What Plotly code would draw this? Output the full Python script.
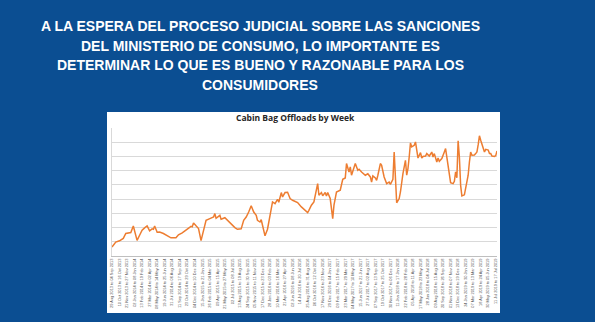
import pandas as pd
import plotly.graph_objects as go

# Slide heading, one entry per line
heading_lines = [
    "A LA ESPERA DEL PROCESO JUDICIAL SOBRE LAS SANCIONES",
    "DEL MINISTERIO DE CONSUMO, LO IMPORTANTE ES",
    "DETERMINAR LO QUE ES BUENO Y RAZONABLE PARA LOS",
    "CONSUMIDORES",
]
chart_title = "Cabin Bag Offloads by Week"

# Weekly series: week number (0 = week of 29 Aug 2013) and offloads level
week_index = [
    0, 3, 6, 9, 11, 15, 17, 18, 20, 22, 24, 26, 28, 30, 32, 33, 34, 36, 38, 41,
    44, 47, 51, 53, 56, 58, 61, 63, 64, 65, 67, 69, 71, 73, 75, 78, 81, 82, 83, 86,
    87, 90, 92, 95, 98, 100, 103, 105, 107, 109, 111, 113, 115, 116, 118, 119, 120, 122, 124, 126,
    128, 130, 132, 133, 135, 136, 138, 140, 142, 144, 147, 148, 151, 154, 156, 157, 159, 161, 162, 164,
    165, 167, 168, 170, 171, 172, 174, 175, 176, 177, 179, 182, 183, 184, 186, 187, 189, 190, 191, 193,
    194, 196, 197, 199, 201, 202, 204, 206, 207, 208, 210, 211, 212, 214, 215, 217, 219, 221, 222, 224,
    225, 226, 227, 229, 230, 232, 233, 234, 235, 236, 237, 238, 239, 241, 242, 243, 244, 246, 247, 248,
    250, 251, 253, 255, 256, 257, 259, 260, 261, 263, 264, 265, 266, 267, 269, 270, 272, 273, 274, 275,
    276, 277, 278, 279, 281, 282, 284, 285, 286, 287, 289, 290, 291, 292, 293, 294, 296, 297, 298, 300,
    301, 302, 303, 305, 306, 307,
]
offloads = [
    0.63, 0.98, 1.07, 1.24, 1.58, 1.65, 2.11, 1.81, 1.10, 1.46, 1.81, 1.98, 2.11, 1.77, 1.91, 1.88, 2.11, 1.67, 1.69, 1.58,
    1.41, 1.28, 1.28, 1.49, 1.63, 1.77, 1.95, 2.09, 2.05, 2.33, 2.12, 1.93, 1.08, 1.81, 2.51, 2.63, 2.74, 2.98, 2.65, 2.86,
    2.58, 2.69, 2.51, 2.28, 2.00, 1.88, 1.91, 2.51, 2.74, 3.09, 3.53, 3.09, 2.86, 2.51, 2.39, 2.55, 2.16, 1.42, 1.88, 2.86,
    3.80, 3.68, 3.99, 3.78, 4.46, 4.15, 4.46, 4.48, 4.04, 3.92, 3.80, 3.76, 3.45, 3.21, 3.05, 3.21, 3.57, 3.80, 4.27, 5.09,
    4.27, 4.46, 4.23, 4.46, 4.22, 4.46, 4.04, 3.14, 2.63, 3.57, 4.50, 4.62, 4.97, 5.39, 5.49, 6.50, 5.91, 6.26, 5.68, 6.15,
    6.50, 6.03, 6.10, 5.91, 5.79, 5.68, 5.78, 5.56, 5.20, 5.63, 5.49, 5.32, 5.68, 6.50, 6.38, 5.56, 5.09, 5.20, 5.04, 5.39,
    7.31, 5.91, 3.74, 4.04, 4.50, 5.79, 6.26, 6.73, 5.68, 6.15, 6.96, 7.95, 7.67, 7.78, 8.02, 7.31, 6.89, 7.27, 6.89, 7.00,
    7.03, 7.20, 7.03, 7.31, 6.96, 7.20, 6.61, 6.89, 6.66, 6.85, 7.03, 7.31, 7.55, 6.85, 5.68, 5.16, 5.09, 5.25, 5.91, 5.50,
    8.10, 6.96, 4.97, 4.22, 4.30, 4.74, 5.68, 6.61, 7.31, 7.08, 7.10, 7.20, 7.31, 7.83, 8.45, 8.14, 7.45, 7.31, 7.50, 7.45,
    7.20, 7.20, 7.03, 7.00, 7.06, 7.38,
]

# Category labels every sixth week
first_week = pd.Timestamp("2013-08-29")
n_weeks = 308
label_weeks = list(range(0, n_weeks, 6))
week_labels = [
    f"{first_week + pd.Timedelta(weeks=w):%d %b %Y} to "
    f"{first_week + pd.Timedelta(weeks=w, days=6):%d %b %Y}"
    for w in label_weeks
]

BLUE = "rgb(11,78,146)"
ORANGE = "#ED7D31"

fig = go.Figure()
fig.add_trace(go.Scatter(
    x=week_index, y=offloads, mode="lines",
    line=dict(color=ORANGE, width=1.5),
    hoverinfo="skip",
))

# Plot area spans x 112..497, y 128..256 px
W, H = 595, 322
L, R, T, B = 112, 98, 128, 66
pw, ph = W - L - R, H - T - B


def px_x(x):
    return (x - L) / pw


def px_y(y):
    return (H - B - y) / ph


# White chart card behind the plot
fig.add_shape(
    type="rect", xref="paper", yref="paper", layer="below",
    x0=px_x(107), x1=px_x(500), y0=px_y(313), y1=px_y(112),
    fillcolor="white", line=dict(width=0),
)

annotations = []
heading_y = [25.5, 46, 65, 84.5]
for text, yy in zip(heading_lines, heading_y):
    annotations.append(dict(
        text=f"<b>{text}</b>", xref="paper", yref="paper",
        x=px_x(260), y=px_y(yy), xanchor="center", yanchor="middle",
        showarrow=False,
        font=dict(family="Liberation Sans, Arial", size=14, color="white"),
    ))
annotations.append(dict(
    text=f"<b>{chart_title}</b>", xref="paper", yref="paper",
    x=px_x(295), y=px_y(117.5), xanchor="center", yanchor="middle",
    showarrow=False,
    font=dict(family="Open Sans, Liberation Sans", size=8.5, color="#262626"),
))

fig.update_layout(
    width=W, height=H,
    margin=dict(l=L, r=R, t=T, b=B),
    paper_bgcolor=BLUE,
    plot_bgcolor="rgba(0,0,0,0)",
    showlegend=False,
    annotations=annotations,
    xaxis=dict(
        range=[0, n_weeks - 1],
        tickmode="array", tickvals=label_weeks, ticktext=week_labels,
        tickangle=-90,
        tickfont=dict(family="Liberation Sans, Arial", size=3.9, color="#595959"),
        showgrid=False, zeroline=False,
        showline=True, linecolor="#bfbfbf", linewidth=1,
        ticks="", fixedrange=True,
    ),
    yaxis=dict(
        range=[0, 9], dtick=1, tick0=0,
        showticklabels=False,
        showgrid=True, gridcolor="#d9d9d9", gridwidth=1,
        zeroline=False,
        showline=True, linecolor="#d9d9d9", linewidth=1,
        ticks="", fixedrange=True,
    ),
)

fig.write_html("out.html")
